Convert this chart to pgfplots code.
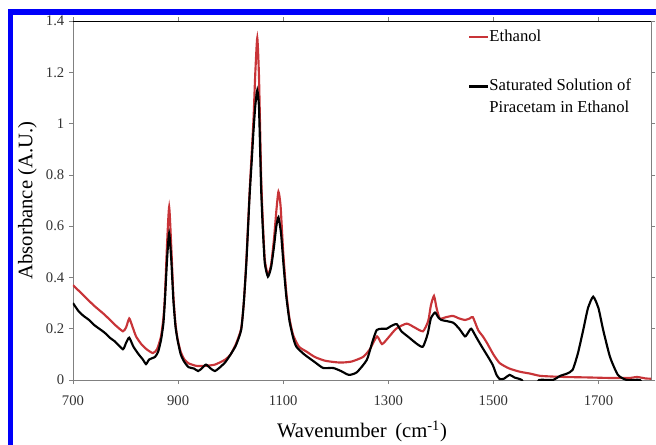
\documentclass[border=0pt]{standalone}
\usepackage{fontspec}
\setmainfont{Liberation Serif}
\usepackage{pgfplots}
\pgfplotsset{compat=1.18}
\definecolor{ethred}{RGB}{200,52,56}
\definecolor{frameblue}{RGB}{0,0,250}

\pgfplotstableread{
w a
700 0.37
720 0.33
740 0.29
760 0.255
780 0.215
795 0.19
801 0.205
807 0.24
812 0.215
820 0.17
830 0.14
840 0.12
852 0.105
860 0.12
867.5 0.17
872 0.24
875 0.33
879 0.53
883 0.675
887 0.52
891 0.33
895 0.22
899 0.16
905 0.11
912 0.08
920 0.065
935 0.055
950 0.055
970 0.06
990 0.08
1000 0.1
1010 0.14
1020 0.2
1025 0.3
1030 0.47
1036 0.73
1040 0.88
1043.6 1.02
1047 1.2
1050.7 1.334
1054 1.18
1058 0.8
1061 0.63
1065 0.47
1071 0.41
1077 0.45
1082.5 0.55
1087 0.66
1091 0.734
1095 0.68
1100 0.5
1106 0.34
1112 0.24
1119 0.175
1130 0.13
1145 0.11
1160 0.09
1180 0.075
1208 0.068
1230 0.072
1252 0.09
1265 0.12
1278.5 0.17
1288 0.14
1300 0.165
1315 0.2
1335 0.22
1350 0.205
1366 0.19
1376 0.23
1381 0.29
1387 0.328
1392 0.28
1398 0.24
1410 0.245
1423 0.25
1435 0.24
1446 0.234
1455 0.24
1461 0.245
1471 0.195
1480 0.17
1488 0.144
1500 0.1
1512 0.066
1530 0.045
1551 0.032
1570 0.025
1590 0.016
1632 0.012
1680 0.01
1720 0.008
1760 0.008
1773 0.012
1790 0.006
1800 0.005
}\ethanol

\pgfplotstableread{
w a
700 0.30
710 0.27
720 0.25
730 0.235
740 0.215
750 0.2
760 0.185
770 0.165
780 0.15
795 0.12
801 0.145
807 0.165
815 0.13
825 0.1
833 0.08
839 0.062
845 0.08
856 0.09
862 0.11
867.5 0.156
872 0.22
875 0.312
879 0.47
883 0.573
887 0.47
891 0.312
895 0.21
899 0.156
905 0.1
912 0.07
920 0.05
930 0.045
938 0.035
945 0.045
953 0.06
962 0.045
970 0.035
980 0.05
990 0.07
1000 0.1
1010 0.135
1020 0.195
1025 0.3
1030 0.46
1036 0.715
1040 0.85
1043.6 0.975
1047 1.07
1050.7 1.13
1054 1.06
1058 0.75
1061 0.6
1065 0.456
1071 0.403
1077 0.44
1082.5 0.52
1087 0.6
1091 0.635
1096 0.57
1101 0.44
1106 0.325
1112 0.23
1119 0.165
1125 0.13
1140 0.1
1160 0.07
1176 0.047
1195 0.047
1210 0.035
1225 0.02
1240 0.03
1259 0.078
1270 0.15
1278 0.195
1288 0.2
1297 0.2
1305 0.21
1316 0.218
1325 0.19
1340 0.165
1355 0.14
1366 0.13
1375 0.18
1381 0.24
1389 0.263
1395 0.245
1401 0.234
1423 0.224
1435 0.2
1446 0.17
1452 0.185
1458 0.2
1468 0.165
1478 0.13
1490 0.09
1499 0.058
1506 0.02
1512 0.004
1520 0.005
1531 0.02
1540 0.01
1554 0.0
1562 -0.03
1580 -0.03
1587 0.0
1613 0.0
1627 0.016
1640 0.025
1651 0.04
1661 0.105
1671 0.195
1680 0.28
1690 0.325
1700 0.28
1709 0.195
1722 0.09
1737 0.02
1754 0.0
1779 0.0
1786 -0.03
1800 -0.03
}\piracetam

\begin{document}
\begin{tikzpicture}
\begin{axis}[
    at={(0,0)}, anchor=south west,
    scale only axis,
    width=433.5pt, height=269.25pt,
    xmin=700, xmax=1800, ymin=0, ymax=1.4,
    xtick={700,900,1100,1300,1500,1700},
    ytick={0,0.2,0.4,0.6,0.8,1,1.2,1.4},
    yticklabels={0,0.2,0.4,0.6,0.8,1,1.2,1.4},
    /pgf/number format/1000 sep={},
    /pgf/number format/assume math mode=true,
    tick label style={font=\fontsize{11}{13}\selectfont, text=black!80},
    xticklabel style={yshift=-5pt},
    tick align=outside, major tick length=3pt,
    tick style={gray, thin},
    axis line style={gray},
    xlabel={Wavenumber\, (cm\textsuperscript{-1})},
    ylabel={Absorbance (A.U.)},
    label style={font=\fontsize{15.5}{18}\selectfont},
    xlabel style={yshift=-5pt},
    legend style={at={(rel axis cs:0.676,0.985)}, anchor=north west,
        draw=none, fill=none, font=\fontsize{12.5}{16.5}\selectfont,
        row sep=30.5pt, nodes={inner sep=0.5pt}},
    legend cell align=left,
    legend image code/.code={\draw[#1] (0pt,0pt) -- (14pt,0pt);},
    every axis plot/.append style={line width=1.6pt, smooth, tension=0.35},
]
\addplot[ethred] table[x=w, y=a] {\ethanol};
\addlegendentry{Ethanol}
\addplot[black] table[x=w, y=a] {\piracetam};
\addlegendentry{\smash{\raisebox{-0.3em}{\begin{tabular}[t]{@{}l@{}}Saturated Solution of\\Piracetam in Ethanol\end{tabular}}}}
\draw[black, thin] (rel axis cs:0,1) -- (rel axis cs:1,1);
\end{axis}
\fill[frameblue] (-48.75pt,-60pt) rectangle (-45pt,278.25pt);
\fill[frameblue] (-48.75pt,273.75pt) rectangle (450pt,278.25pt);
\pgfresetboundingbox
\useasboundingbox (-54.75pt,-48pt) rectangle (437.25pt,285pt);
\end{tikzpicture}
\end{document}
